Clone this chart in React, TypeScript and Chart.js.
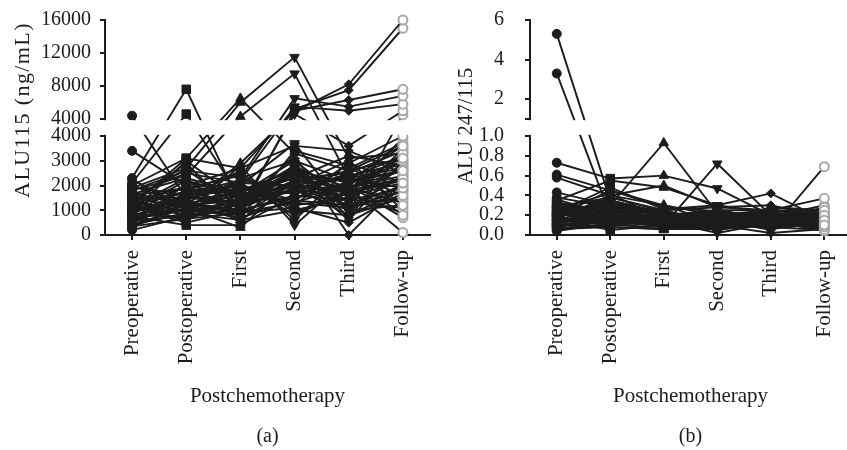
import React, { useEffect, useRef } from "react";
import { Chart, registerables, LinearScale } from "chart.js";

const INK = "#1c1c1c";
const GREY = "#a8a8a8";
const FONT = '"Liberation Serif", "Times New Roman", serif';

// ---- categories ----
const timepoints = ["Preoperative", "Postoperative", "First", "Second", "Third", "Follow-up"];

// ---- panel (a): ALU115 (ng/mL), one entry per patient ----
const preop115 = [4400, 3400, 2300, 2100, 2000, 1900, 1800, 1700, 900, 1600, 1250, 600, 1450, 700, 2250, 1300, 500, 1200, 1150, 300, 1050, 2000, 950, 400, 1750, 850, 1100, 250, 1400, 800, 1600, 650, 1500, 200, 1000, 750, 1350, 550, 1950, 450, 1200, 350, 1300, 950, 1100, 700, 1500, 1000, 850, 1200, 600, 1650, 400, 1300, 950, 1800, 550, 1400, 750, 1050];
const postop115 = [1500, 2000, 7600, 4600, 3100, 2700, 2400, 1200, 2000, 1900, 800, 1700, 2650, 1600, 1050, 2900, 1450, 600, 2300, 1300, 950, 1200, 3000, 1100, 700, 1800, 500, 2100, 900, 1350, 2500, 1000, 1500, 750, 2200, 400, 1900, 1250, 1600, 850, 3100, 650, 1750, 1400, 1300, 1000, 1100, 1500, 700, 1700, 1200, 2300, 900, 1000, 1600, 2600, 800, 1900, 1300, 1450];
const first115 = [1300, 1600, 1200, 1500, 6500, 6000, 4300, 2900, 2700, 900, 2300, 2200, 1100, 2000, 1900, 700, 2600, 1650, 500, 1550, 2800, 1450, 1400, 300, 1300, 2500, 1000, 1700, 1200, 600, 2100, 800, 1900, 1100, 1600, 400, 2400, 1800, 2000, 1500, 2700, 900, 1250, 2200, 1000, 1300, 700, 1600, 1100, 2000, 1400, 1700, 600, 1800, 1200, 2300, 1000, 1500, 900, 2100];
const second115 = [1800, 2300, 2600, 2000, 3300, 11500, 9500, 4900, 5200, 5000, 6500, 5500, 4600, 3700, 1200, 3400, 600, 3000, 2900, 1800, 400, 2500, 1500, 2300, 2200, 1000, 2700, 1700, 3200, 2000, 800, 2100, 1300, 1900, 2400, 1600, 900, 2600, 1400, 2800, 3600, 1100, 2200, 1900, 1600, 2000, 1400, 1700, 2500, 1200, 2100, 2700, 1000, 2300, 1800, 3000, 1500, 2600, 1300, 2000];
const third115 = [1600, 1900, 2100, 1700, 2600, 3100, 2300, 8200, 7500, 6300, 5500, 5000, 3600, 900, 2900, 2800, 2700, 1300, 700, 2400, 2300, 600, 2100, 3200, 1900, 1500, 1100, 2500, 0, 3000, 1800, 1200, 2000, 800, 2200, 1400, 1700, 1000, 2900, 1600, 3400, 500, 1900, 2300, 1400, 1800, 1200, 2100, 1300, 1500, 2600, 1900, 800, 2500, 1000, 2200, 1900, 1700, 1100, 2400];
const follow115 = [2100, 2600, 3100, 2300, 3600, 3300, 1900, 16000, 15000, 7600, 6800, 5800, 5000, 4500, 4000, 1200, 3700, 3500, 3400, 800, 3200, 3000, 2900, 2800, 100, 2700, 2400, 1600, 2200, 1000, 3900, 2000, 700, 1800, 2600, 1400, 3300, 1200, 2100, 900, 2500, 1700, 3000, 2700, 1900, 2300, 1500, 2600, 1100, 2800, 3100, 1300, 1500, 3400, 2000, 3600, 2400, 2200, 1800, 2900];

// ---- panel (b): ALU 247/115 ratio, one entry per patient ----
const preop247 = [5.3, 3.3, 0.73, 0.61, 0.58, 0.43, 0.35, 0.3, 0.28, 0.25, 0.22, 0.2, 0.38, 0.18, 0.15, 0.12, 0.1, 0.08, 0.32, 0.26, 0.05, 0.2, 0.16, 0.3, 0.14, 0.22, 0.24, 0.11, 0.34, 0.19, 0.07, 0.27, 0.17, 0.13, 0.29, 0.09, 0.36, 0.21, 0.04, 0.23, 0.12, 0.18, 0.25, 0.08, 0.3, 0.15, 0.2, 0.1, 0.22, 0.27, 0.14, 0.06, 0.19, 0.24, 0.11, 0.33, 0.16, 0.09, 0.21, 0.28];
const postop247 = [0.35, 0.2, 0.57, 0.45, 0.4, 0.3, 0.55, 0.25, 0.38, 0.2, 0.15, 0.32, 0.28, 0.1, 0.3, 0.22, 0.08, 0.18, 0.12, 0.42, 0.15, 0.28, 0.05, 0.35, 0.25, 0.12, 0.2, 0.32, 0.15, 0.45, 0.1, 0.22, 0.38, 0.18, 0.26, 0.14, 0.2, 0.3, 0.12, 0.48, 0.18, 0.12, 0.3, 0.2, 0.25, 0.1, 0.35, 0.16, 0.28, 0.14, 0.22, 0.08, 0.26, 0.32, 0.12, 0.24, 0.4, 0.18, 0.3, 0.15];
const first247 = [0.2, 0.15, 0.6, 0.3, 0.5, 0.93, 0.48, 0.1, 0.25, 0.12, 0.18, 0.22, 0.2, 0.14, 0.1, 0.25, 0.06, 0.12, 0.18, 0.15, 0.08, 0.2, 0.1, 0.22, 0.16, 0.05, 0.14, 0.2, 0.12, 0.28, 0.18, 0.12, 0.24, 0.08, 0.18, 0.22, 0.16, 0.1, 0.14, 0.26, 0.14, 0.1, 0.2, 0.16, 0.12, 0.08, 0.22, 0.18, 0.14, 0.2, 0.1, 0.06, 0.16, 0.24, 0.12, 0.18, 0.3, 0.14, 0.2, 0.1];
const second247 = [0.15, 0.12, 0.47, 0.2, 0.28, 0.22, 0.3, 0.72, 0.28, 0.15, 0.25, 0.1, 0.18, 0.2, 0.08, 0.12, 0.18, 0.05, 0.22, 0.16, 0.1, 0.25, 0.14, 0.12, 0.2, 0.15, 0.02, 0.18, 0.1, 0.24, 0.16, 0.2, 0.14, 0.12, 0.22, 0.06, 0.18, 0.26, 0.1, 0.3, 0.12, 0.18, 0.14, 0.1, 0.2, 0.08, 0.16, 0.22, 0.12, 0.14, 0.18, 0.06, 0.2, 0.1, 0.16, 0.24, 0.12, 0.18, 0.14, 0.08];
const third247 = [0.12, 0.1, 0.2, 0.18, 0.25, 0.15, 0.42, 0.2, 0.3, 0.05, 0.25, 0.28, 0.22, 0.1, 0.15, 0.08, 0.2, 0.12, 0.18, 0.1, 0.02, 0.15, 0.22, 0.1, 0.25, 0.16, 0.12, 0.2, 0.14, 0.18, 0.06, 0.24, 0.2, 0.18, 0.12, 0.1, 0.26, 0.14, 0.08, 0.22, 0.16, 0.12, 0.18, 0.08, 0.14, 0.1, 0.2, 0.12, 0.16, 0.22, 0.06, 0.14, 0.18, 0.1, 0.2, 0.12, 0.16, 0.24, 0.1, 0.14];
const follow247 = [0.1, 0.08, 0.15, 0.12, 0.2, 0.1, 0.15, 0.12, 0.18, 0.69, 0.37, 0.25, 0.2, 0.15, 0.22, 0.05, 0.1, 0.28, 0.12, 0.2, 0.06, 0.18, 0.14, 0.08, 0.24, 0.1, 0.16, 0.22, 0.04, 0.12, 0.2, 0.26, 0.14, 0.3, 0.1, 0.18, 0.16, 0.08, 0.12, 0.2, 0.12, 0.18, 0.1, 0.16, 0.2, 0.08, 0.14, 0.22, 0.1, 0.18, 0.12, 0.06, 0.16, 0.2, 0.14, 0.1, 0.24, 0.12, 0.18, 0.15];

// ---- broken-axis ranges and tick values ----
const alu115Low = [0, 4000];
const alu115High = [4000, 16000];
const alu115LowTicks = [0, 1000, 2000, 3000, 4000];
const alu115HighTicks = [4000, 8000, 12000, 16000];
const ratioLow = [0, 1];
const ratioHigh = [1, 6];
const ratioLowTicks = [0, 0.2, 0.4, 0.6, 0.8, 1.0];
const ratioHighTicks = [1, 2, 4, 6];

// ---- per-timepoint marker styles ----
const pointStyles = ["circle", "rect", "triangle", "triangle", "rectRot", "circle"];
const pointRotations = [0, 0, 0, 180, 0, 0];
const pointRadii = [4.5, 6, 5.5, 5.5, 4.5, 4.5];
const pointFills = [INK, INK, INK, INK, INK, "#ffffff"];
const pointEdges = [INK, INK, INK, INK, INK, GREY];
const pointEdgeWidths = [1, 1, 1, 1, 1, 2];

const EPS = 1e-9;
// fraction of the axis length used by the white break between the two segments
const GAP = 17 / 215;

// A linear axis with a break: the lower range fills the bottom part of the
// axis, the upper range the top part, with a gap in between.
class BrokenScale extends LinearScale {
  static id = "broken";
  static defaults = { ...(LinearScale as any).defaults };
  getPixelForValue(value: number) {
    const b = (this as any).options.brk;
    const seg = (1 - GAP) / 2;
    let f: number;
    if (value <= b.low[1]) f = ((value - b.low[0]) / (b.low[1] - b.low[0])) * seg;
    else f = seg + GAP + ((value - b.high[0]) / (b.high[1] - b.high[0])) * seg;
    const top = (this as any).top;
    const bottom = (this as any).bottom;
    return bottom - f * (bottom - top);
  }
}

Chart.register(...registerables, BrokenScale as any);

function byPatient(cols: number[][]): number[][] {
  const n = cols[0].length;
  const out: number[][] = [];
  for (let i = 0; i < n; i++) out.push(cols.map((c) => c[i]));
  return out;
}

const rowsA = byPatient([preop115, postop115, first115, second115, third115, follow115]);
const rowsB = byPatient([preop247, postop247, first247, second247, third247, follow247]);

const yTitlePlugin = {
  id: "yTitle",
  afterDraw(chart: any, _args: any, opts: any) {
    if (!opts || !opts.text) return;
    const ctx = chart.ctx as CanvasRenderingContext2D;
    ctx.save();
    ctx.translate(opts.x, opts.y);
    ctx.rotate(-Math.PI / 2);
    ctx.font = `${opts.size || 21}px ${FONT}`;
    ctx.fillStyle = INK;
    ctx.textAlign = "center";
    ctx.textBaseline = "middle";
    (ctx as any).letterSpacing = opts.spacing || "0px";
    ctx.fillText(opts.text, 0, 0);
    ctx.restore();
  },
};

// whitens the break between the two axis segments (axis line and data)
const gapPlugin = {
  id: "axisGap",
  afterDatasetsDraw(chart: any) {
    const y = chart.scales.y;
    const ca = chart.chartArea;
    const len = y.bottom - y.top;
    const seg = (1 - GAP) / 2;
    const yLowTop = y.bottom - seg * len;
    const yHighBottom = y.bottom - (seg + GAP) * len;
    const ctx = chart.ctx as CanvasRenderingContext2D;
    ctx.save();
    ctx.fillStyle = "#ffffff";
    ctx.fillRect(ca.left - 4, yHighBottom + 1.2, ca.right - ca.left + 12, yLowTop - yHighBottom - 2.4);
    ctx.restore();
  },
};

type Panel = {
  rows: number[][];
  low: number[];
  high: number[];
  lowTicks: number[];
  highTicks: number[];
  lowLabel: (v: number) => string;
  highLabel: (v: number) => string;
  yWidth: number;
  tickPad: number;
  padRight: number;
  caption: string;
  yTitle: any;
};

// the canvas is shifted up by this much so that Chart.js' label padding
// never pushes the plotting area down
const SHIFT = 40;

function panelConfig(p: Panel): any {
  const datasets = p.rows.map((r) => ({
    data: r,
    borderColor: INK,
    borderWidth: 1.9,
    tension: 0,
    fill: false,
    pointStyle: pointStyles,
    pointRotation: pointRotations,
    pointRadius: pointRadii,
    pointBackgroundColor: pointFills,
    pointBorderColor: pointEdges,
    pointBorderWidth: pointEdgeWidths,
    clip: { left: 10, right: 10, top: 8, bottom: 8 },
  }));
  const tickValues = [...p.lowTicks, ...p.highTicks.map((v) => (v === p.high[0] ? v + EPS : v))];
  return {
    type: "line",
    data: { labels: timepoints, datasets },
    plugins: [gapPlugin, yTitlePlugin],
    options: {
      responsive: false,
      animation: false,
      events: [],
      layout: {
        autoPadding: false,
        padding: { top: 20 + SHIFT, right: p.padRight, bottom: 1, left: 0 },
      },
      plugins: {
        legend: { display: false },
        tooltip: { enabled: false },
        title: {
          display: true,
          text: p.caption,
          position: "bottom",
          fullSize: false,
          color: INK,
          font: { family: FONT, size: 20, weight: "normal", lineHeight: 1.2 },
          padding: 0,
        },
        yTitle: p.yTitle,
      },
      scales: {
        x: {
          offset: true,
          grid: { drawOnChartArea: false, drawTicks: true, tickLength: 5, lineWidth: 2, color: INK },
          border: { display: true, width: 2, color: INK },
          ticks: {
            autoSkip: false,
            minRotation: 90,
            maxRotation: 90,
            padding: 10,
            color: INK,
            font: { family: FONT, size: 21 },
          },
          title: {
            display: true,
            text: "Postchemotherapy",
            color: INK,
            font: { family: FONT, size: 21 },
            padding: { top: 0, bottom: 16 },
          },
          afterFit: (sc: any) => {
            sc.height = 190;
          },
        },
        y: {
          type: "broken",
          brk: { low: p.low, high: p.high },
          min: p.low[0],
          max: p.high[1],
          afterBuildTicks: (sc: any) => {
            sc.ticks = tickValues.map((v) => ({ value: v }));
          },
          ticks: {
            autoSkip: false,
            callback: (v: any) => {
              const n = Number(v);
              return n > p.low[1] ? p.highLabel(n) : p.lowLabel(n);
            },
            color: INK,
            padding: p.tickPad,
            font: { family: FONT, size: 20, lineHeight: 1 },
          },
          grid: { drawOnChartArea: false, drawTicks: true, tickLength: 5, lineWidth: 2, color: INK },
          border: { display: true, width: 2, color: INK },
          afterFit: (sc: any) => {
            sc.width = p.yWidth;
          },
        },
      },
    },
  };
}

const panelA: Panel = {
  rows: rowsA,
  low: alu115Low,
  high: alu115High,
  lowTicks: alu115LowTicks,
  highTicks: alu115HighTicks,
  lowLabel: (v) => String(Math.round(v)),
  highLabel: (v) => String(Math.round(v)),
  yWidth: 105,
  tickPad: 9,
  padRight: 10,
  caption: "(a)",
  yTitle: { text: "ALU115 (ng/mL)", x: 23, y: 110 + SHIFT, size: 22, spacing: "1.4px" },
};

const panelB: Panel = {
  rows: rowsB,
  low: ratioLow,
  high: ratioHigh,
  lowTicks: ratioLowTicks,
  highTicks: ratioHighTicks,
  lowLabel: (v) => v.toFixed(1),
  highLabel: (v) => (Math.abs(v - 1) < 1e-6 ? "" : String(Math.round(v))),
  yWidth: 90,
  tickPad: 21,
  padRight: 6,
  caption: "(b)",
  yTitle: { text: "ALU 247/115", x: 26, y: 126 + SHIFT, size: 21, spacing: "0px" },
};

function PanelChart(props: { panel: Panel; left: number; width: number }) {
  const ref = useRef<HTMLCanvasElement>(null);
  useEffect(() => {
    const chart = new Chart(ref.current as HTMLCanvasElement, panelConfig(props.panel));
    return () => chart.destroy();
  }, []);
  const height = 450 + SHIFT;
  return (
    <canvas
      ref={ref}
      width={props.width}
      height={height}
      style={{ position: "absolute", left: props.left, top: -SHIFT, width: props.width, height }}
    />
  );
}

export default function App() {
  return (
    <div
      style={{
        position: "fixed",
        left: 0,
        top: 0,
        width: 847,
        height: 450,
        overflow: "hidden",
        background: "#ffffff",
      }}
    >
      <PanelChart panel={panelA} left={0} width={440} />
      <PanelChart panel={panelB} left={440} width={420} />
    </div>
  );
}
